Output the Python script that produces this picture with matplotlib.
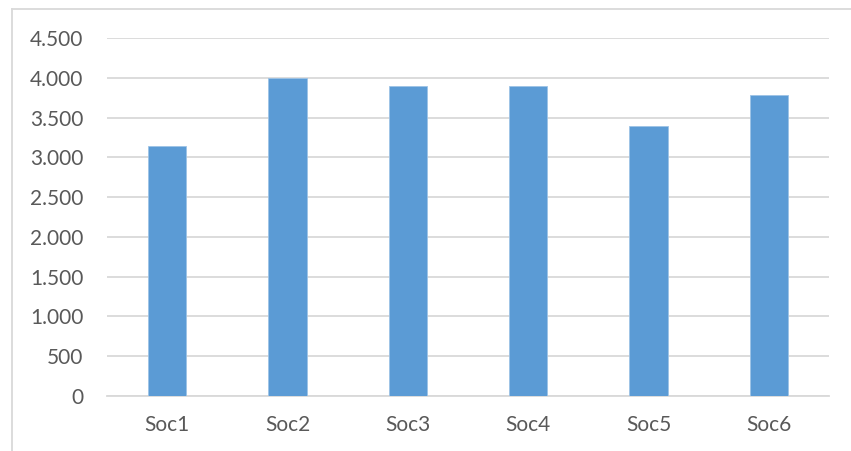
import matplotlib.pyplot as plt
from matplotlib.ticker import FuncFormatter
from matplotlib.lines import Line2D

categories = ["Soc1", "Soc2", "Soc3", "Soc4", "Soc5", "Soc6"]
values = [3140, 4000, 3895, 3895, 3390, 3786]
yticks = [0, 500, 1000, 1500, 2000, 2500, 3000, 3500, 4000, 4500]

plt.rcParams['font.family'] = ['Lato', 'DejaVu Sans']

W, H = 851, 451
fig = plt.figure(figsize=(W / 100, H / 100), dpi=100)
fig.patch.set_facecolor('white')

# plot area in pixel coordinates of the reference
left, right, top, bottom = 107, 829, 38, 396
ax = fig.add_axes([left / W, 1 - bottom / H, (right - left) / W, (bottom - top) / H])

x = range(len(categories))
ax.bar(x, values, width=0.317, color='#5B9BD5', edgecolor='#9DC3E6', linewidth=0.6, zorder=3)

ax.set_xlim(-0.5, len(categories) - 0.5)
ax.set_ylim(0, 4500)
ax.set_yticks(yticks)
ax.yaxis.set_major_formatter(FuncFormatter(lambda v, p: f"{int(v):,}".replace(",", ".")))
ax.set_xticks(list(x))
ax.set_xticklabels(categories)

ax.grid(axis='y', color='#D9D9D9', linewidth=1.3, zorder=0)
for s in ['top', 'right', 'left']:
    ax.spines[s].set_visible(False)
ax.spines['bottom'].set_color('#D9D9D9')
ax.spines['bottom'].set_linewidth(1.3)
ax.tick_params(axis='both', length=0, labelsize=15, labelcolor='#595959')
ax.tick_params(axis='y', pad=17)
ax.tick_params(axis='x', pad=14)

# outer chart border (left and top edges visible)
fig.add_artist(Line2D([12 / W, 12 / W], [0, 1 - 9 / H], color='#D9D9D9', linewidth=1.3))
fig.add_artist(Line2D([12 / W, 1], [1 - 9 / H, 1 - 9 / H], color='#D9D9D9', linewidth=1.3))

fig.savefig("out.png", dpi=100, facecolor=fig.get_facecolor())
